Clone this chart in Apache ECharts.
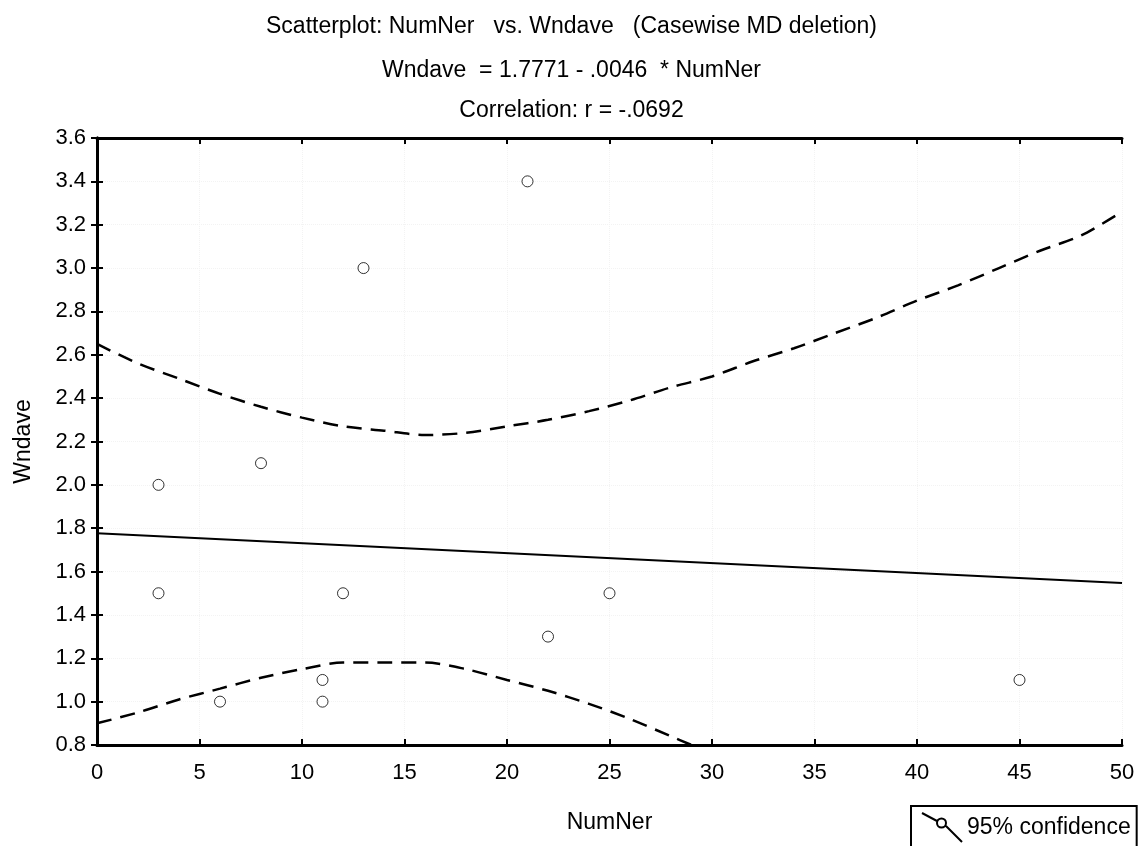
<!DOCTYPE html>
<html>
<head>
<meta charset="utf-8">
<title>Scatterplot: NumNer vs. Wndave</title>
<script src="https://cdn.jsdelivr.net/npm/echarts@6.0.0/dist/echarts.min.js"></script>
<style>
    html, body { margin: 0; padding: 0; background: #fff; }
    .chart { width: 1143px; height: 846px; }
</style>
</head>
<body>
<div class="chart"></div>
<script>
// 散点数据 (NumNer, Wndave)
var numNer = [3, 3, 6, 8, 11, 11, 12, 13, 21, 22, 25, 45];
var wndave = [2.0, 1.5, 1.0, 2.1, 1.0, 1.1, 1.5, 3.0, 3.4, 1.3, 1.5, 1.1];

// 回归线 端点
var fitX = [0, 50];
var fitY = [1.777, 1.547];

// 95% 置信带
var upperX = [0, 2, 4, 6, 8, 10, 12, 14, 16, 18, 20, 22, 24, 26, 28, 30, 32, 34, 36, 38, 40, 42, 44, 46, 48, 50];
var upperY = [2.65, 2.56, 2.49, 2.42, 2.36, 2.31, 2.27, 2.25, 2.23, 2.24, 2.27, 2.30, 2.34, 2.39, 2.45, 2.50, 2.57, 2.63, 2.70, 2.77, 2.85, 2.92, 3.00, 3.08, 3.15, 3.26];
var lowerX = [0, 2, 4, 6, 8, 10, 12, 14, 16, 18, 20, 22, 24, 26, 28, 29];
var lowerY = [0.90, 0.95, 1.01, 1.06, 1.11, 1.15, 1.18, 1.18, 1.18, 1.15, 1.10, 1.05, 0.99, 0.92, 0.84, 0.80];

var titleLines = [
    'Scatterplot: NumNer   vs. Wndave   (Casewise MD deletion)',
    'Wndave  = 1.7771 - .0046  * NumNer',
    'Correlation: r = -.0692'
];

function pairs(xs, ys) {
    var out = [];
    for (var i = 0; i < xs.length; i++) {
        out.push([xs[i], ys[i]]);
    }
    return out;
}

var font = '"Liberation Sans", Arial, sans-serif';

var myChart = echarts.init(document.querySelector('.chart'));

var tickStyle = { inside: true, length: 6, lineStyle: { color: '#000', width: 2 } };
var lineAxis = { lineStyle: { color: '#000', width: 3 } };
var gridDots = { show: true, lineStyle: { color: '#f3f3f3', type: 'dotted', width: 1 } };

var option = {
    animation: false,
    backgroundColor: '#fff',
    title: [
        { text: titleLines[0], left: 'center', top: 10, textStyle: { fontFamily: font, fontSize: 23, fontWeight: 'normal', color: '#000' } },
        { text: titleLines[1], left: 'center', top: 54, textStyle: { fontFamily: font, fontSize: 23, fontWeight: 'normal', color: '#000' } },
        { text: titleLines[2], left: 'center', top: 94, textStyle: { fontFamily: font, fontSize: 23, fontWeight: 'normal', color: '#000' } }
    ],
    legend: {
        data: ['95% confidence'],
        left: 911,
        top: 806,
        orient: 'horizontal',
        padding: [6, 6, 20, 10],
        borderColor: '#000',
        borderWidth: 2,
        borderRadius: 0,
        itemWidth: 40,
        itemHeight: 29,
        itemGap: 5,
        icon: 'path://M0,0 L15,8 M24,13 L40,29 M24,10 A4.5,4.5 0 1 1 15,10 A4.5,4.5 0 1 1 24,10 Z',
        itemStyle: { color: '#fff', borderColor: '#000', borderWidth: 2 },
        textStyle: { fontFamily: font, fontSize: 23, color: '#000' },
        selectedMode: false
    },
    grid: { left: 97, right: 21, top: 138, bottom: 101 },
    xAxis: [
        {
            type: 'value', min: 0, max: 50, interval: 5,
            name: 'NumNer', nameLocation: 'middle', nameGap: 66,
            nameTextStyle: { fontFamily: font, fontSize: 23, color: '#000' },
            axisLine: lineAxis, axisTick: tickStyle,
            axisLabel: { fontFamily: font, fontSize: 22, color: '#000', margin: 17 },
            splitLine: gridDots
        },
        {
            type: 'value', min: 0, max: 50, interval: 5, position: 'top',
            axisLine: lineAxis, axisTick: tickStyle,
            axisLabel: { show: false }, splitLine: { show: false }
        }
    ],
    yAxis: [
        {
            type: 'value', min: 0.8, max: 3.6, interval: 0.2,
            name: 'Wndave', nameLocation: 'middle', nameGap: 62, nameRotate: 90,
            nameTextStyle: { fontFamily: font, fontSize: 23, color: '#000' },
            axisLine: lineAxis, axisTick: tickStyle,
            axisLabel: {
                fontFamily: font, fontSize: 22, color: '#000', margin: 11,
                formatter: function (v) { return v.toFixed(1); }
            },
            splitLine: gridDots
        },
        {
            type: 'value', min: 0.8, max: 3.6, interval: 0.2, position: 'right',
            axisLine: lineAxis, axisTick: tickStyle,
            axisLabel: { show: false }, splitLine: { show: false }
        }
    ],
    series: [
        {
            name: 'Regression',
            type: 'line',
            data: pairs(fitX, fitY),
            symbol: 'none',
            lineStyle: { color: '#000', width: 2 },
            z: 3
        },
        {
            name: '95% confidence',
            type: 'line',
            data: pairs(upperX, upperY),
            symbol: 'none',
            smooth: 0.3,
            lineStyle: { color: '#000', width: 2.5, type: [15, 9] },
            z: 3
        },
        {
            name: '95% confidence lower',
            type: 'line',
            data: pairs(lowerX, lowerY),
            symbol: 'none',
            smooth: 0.3,
            lineStyle: { color: '#000', width: 2.5, type: [15, 9] },
            z: 3
        },
        {
            name: 'Points',
            type: 'scatter',
            data: pairs(numNer, wndave),
            symbol: 'circle',
            symbolSize: 11,
            itemStyle: { color: '#fff', borderColor: '#000', borderWidth: 1 },
            z: 4
        }
    ]
};

myChart.setOption(option);
</script>
</body>
</html>
